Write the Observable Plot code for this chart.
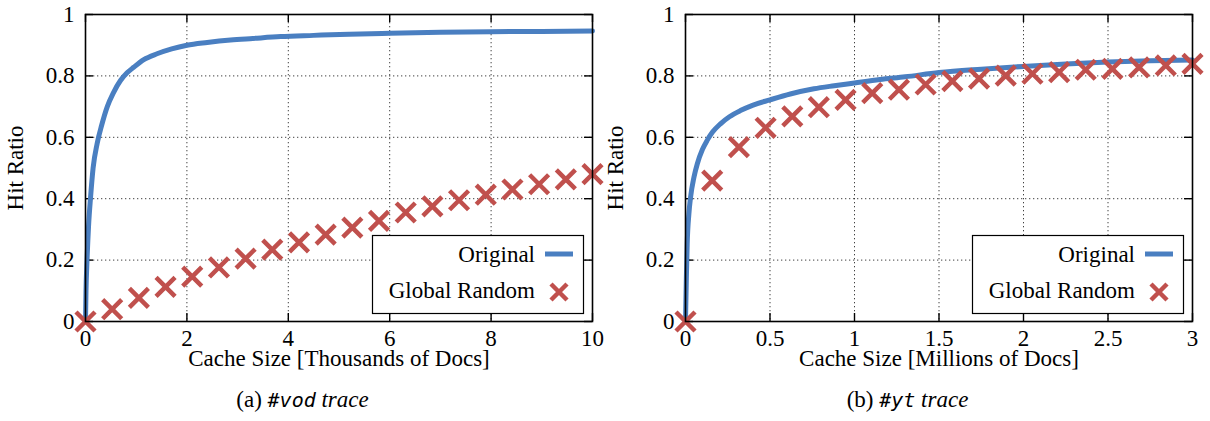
<!DOCTYPE html>
<html><head><meta charset="utf-8">
<script src="https://cdn.jsdelivr.net/npm/d3@7"></script>
<script src="https://cdn.jsdelivr.net/npm/@observablehq/plot@0.6"></script>
<style>
body{margin:0;background:#fff;font-family:"Liberation Serif",serif;}
#wrap{position:relative;width:1210px;height:421px;overflow:hidden;}
.panel{position:absolute;top:0;width:605px;height:370px;}
.legend{position:absolute;overflow:visible;}
.caption{position:absolute;top:388px;width:605px;text-align:center;font-size:23px;line-height:23px;color:#000;}
.mono{font-family:"DejaVu Sans Mono",monospace;font-style:oblique;font-size:20px;}
</style>
</head><body>
<div id="wrap"></div>
<script>
// ---- data ----
const yTicks = [0, 0.2, 0.4, 0.6, 0.8, 1];

// (a) #vod trace
const vodTicks = [0, 2, 4, 6, 8, 10];
const vodOrigX = [0, 0.01, 0.03, 0.06, 0.1, 0.15, 0.23, 0.32, 0.43, 0.55, 0.69, 0.82, 0.95, 1.15, 1.41, 1.7, 2.0, 2.4, 2.86, 3.3, 3.85, 4.5, 5.2, 6.0, 7.0, 8.0, 9.0, 10];
const vodOrigY = [0, 0.1, 0.2, 0.31, 0.405, 0.5, 0.58, 0.64, 0.70, 0.745, 0.785, 0.81, 0.828, 0.853, 0.872, 0.888, 0.90, 0.909, 0.917, 0.922, 0.928, 0.932, 0.936, 0.939, 0.942, 0.944, 0.945, 0.946];
const vodRandX = [0, 0.526, 1.053, 1.579, 2.105, 2.632, 3.158, 3.684, 4.211, 4.737, 5.263, 5.789, 6.316, 6.842, 7.368, 7.895, 8.421, 8.947, 9.474, 10];
const vodRandY = [0, 0.04, 0.077, 0.113, 0.146, 0.176, 0.205, 0.234, 0.258, 0.283, 0.306, 0.328, 0.355, 0.375, 0.395, 0.413, 0.43, 0.447, 0.463, 0.48];

// (b) #yt trace
const ytTicks = [0, 0.5, 1, 1.5, 2, 2.5, 3];
const ytOrigX = [0, 0.005, 0.01, 0.02, 0.03, 0.05, 0.07, 0.1, 0.128, 0.16, 0.207, 0.26, 0.325, 0.4, 0.5, 0.62, 0.76, 0.88, 1.0, 1.15, 1.3, 1.5, 1.75, 2.0, 2.25, 2.5, 2.75, 3.0];
const ytOrigY = [0, 0.14, 0.253, 0.35, 0.405, 0.47, 0.514, 0.56, 0.59, 0.617, 0.644, 0.667, 0.687, 0.705, 0.722, 0.741, 0.758, 0.768, 0.777, 0.788, 0.797, 0.811, 0.822, 0.831, 0.839, 0.845, 0.849, 0.852];
const ytRandX = [0, 0.158, 0.316, 0.474, 0.632, 0.789, 0.947, 1.105, 1.263, 1.421, 1.579, 1.737, 1.895, 2.053, 2.211, 2.368, 2.526, 2.684, 2.842, 3];
const ytRandY = [0, 0.459, 0.568, 0.631, 0.668, 0.698, 0.722, 0.744, 0.755, 0.772, 0.783, 0.791, 0.801, 0.807, 0.812, 0.82, 0.823, 0.828, 0.834, 0.839];

const seriesNames = ["Original", "Global Random"];
const BLUE = "#4a7fc1", RED = "#c0504d";
const FS = 23;

function zip(xs, ys) { return xs.map((x, i) => ({x, y: ys[i]})); }

function panel(cfg) {
  const orig = zip(cfg.ox, cfg.oy), rand = zip(cfg.rx, cfg.ry);
  const W = 605, H = 370, MT = 14, MB = 49;
  const pw = W - cfg.ml - cfg.mr, ph = H - MT - MB, TL = 8;
  const gridStyle = {stroke: "#000", strokeOpacity: 0.75, strokeDasharray: "1.3,2.7", strokeWidth: 1};
  const tickStyle = {stroke: "#000", strokeWidth: 1.4};
  const fmt = d => String(d);
  return Plot.plot({
    width: W, height: H,
    marginLeft: cfg.ml, marginRight: cfg.mr, marginTop: MT, marginBottom: MB,
    style: {fontFamily: "'Liberation Serif', serif", fontSize: FS + "px", color: "#000", background: "transparent", overflow: "visible"},
    x: {domain: cfg.xdom},
    y: {domain: [0, 1]},
    marks: [
      Plot.gridX(cfg.xticks, gridStyle),
      Plot.gridY(yTicks, gridStyle),
      Plot.tickX(cfg.xticks, {x: d => d, insetTop: ph - TL, ...tickStyle}),
      Plot.tickX(cfg.xticks, {x: d => d, insetBottom: ph - TL, ...tickStyle}),
      Plot.tickY(yTicks, {y: d => d, insetRight: pw - TL, ...tickStyle}),
      Plot.tickY(yTicks, {y: d => d, insetLeft: pw - TL, ...tickStyle}),
      Plot.axisX(cfg.xticks, {tickSize: 0, tickPadding: 8, tickFormat: fmt, label: cfg.xlabel, labelAnchor: "center", labelOffset: 44, labelArrow: "none"}),
      Plot.axisY(yTicks, {tickSize: 0, tickPadding: 11, tickFormat: fmt, label: "Hit Ratio", labelAnchor: "center", labelOffset: 79, labelArrow: "none"}),
      Plot.line(orig, {x: "x", y: "y", stroke: BLUE, strokeWidth: 5, curve: "monotone-x"}),
      Plot.dot(rand, {x: "x", y: "y", symbol: "times", r: 8.7, stroke: RED, strokeWidth: 4.5}),
      Plot.frame({stroke: "#000", strokeWidth: 1.6})
    ]
  });
}

function legend(left, top) {
  const svg = d3.create("svg").attr("class", "legend").attr("width", 213).attr("height", 80)
    .style("left", left + "px").style("top", top + "px");
  svg.append("rect").attr("x", 0.5).attr("y", 0.5).attr("width", 211).attr("height", 78)
    .attr("fill", "#fff").attr("stroke", "#000").attr("stroke-width", 1.2);
  svg.append("text").attr("x", 163).attr("y", 27).attr("text-anchor", "end")
    .attr("font-family", "'Liberation Serif', serif").attr("font-size", FS).text(seriesNames[0]);
  svg.append("line").attr("x1", 173).attr("x2", 201).attr("y1", 19).attr("y2", 19)
    .attr("stroke", BLUE).attr("stroke-width", 5);
  svg.append("text").attr("x", 163).attr("y", 63).attr("text-anchor", "end")
    .attr("font-family", "'Liberation Serif', serif").attr("font-size", FS).text(seriesNames[1]);
  svg.append("path").attr("d", "M179,49L195,65M195,49L179,65")
    .attr("stroke", RED).attr("stroke-width", 4.5).attr("fill", "none");
  return svg.node();
}

const wrap = document.getElementById("wrap");
const cfgs = [
  {left: 0, ml: 85, mr: 13, xdom: [0, 10], xticks: vodTicks, xlabel: "Cache Size [Thousands of Docs]",
   ox: vodOrigX, oy: vodOrigY, rx: vodRandX, ry: vodRandY, legL: 372, cap: ["(a) ", "#vod", " trace"]},
  {left: 605, ml: 80, mr: 18, xdom: [0, 3], xticks: ytTicks, xlabel: "Cache Size [Millions of Docs]",
   ox: ytOrigX, oy: ytOrigY, rx: ytRandX, ry: ytRandY, legL: 972, cap: ["(b) ", "#yt", " trace"]}
];
for (const c of cfgs) {
  const div = document.createElement("div");
  div.className = "panel"; div.style.left = c.left + "px";
  div.appendChild(panel(c));
  wrap.appendChild(div);
  wrap.appendChild(legend(c.legL, 235));
  const cap = document.createElement("div");
  cap.className = "caption"; cap.style.left = c.left + "px";
  const a = document.createElement("span"); a.textContent = c.cap[0];
  const m = document.createElement("span"); m.className = "mono"; m.textContent = c.cap[1];
  const t = document.createElement("i"); t.textContent = c.cap[2];
  cap.append(a, m, t);
  wrap.appendChild(cap);
}
</script>
</body></html>
